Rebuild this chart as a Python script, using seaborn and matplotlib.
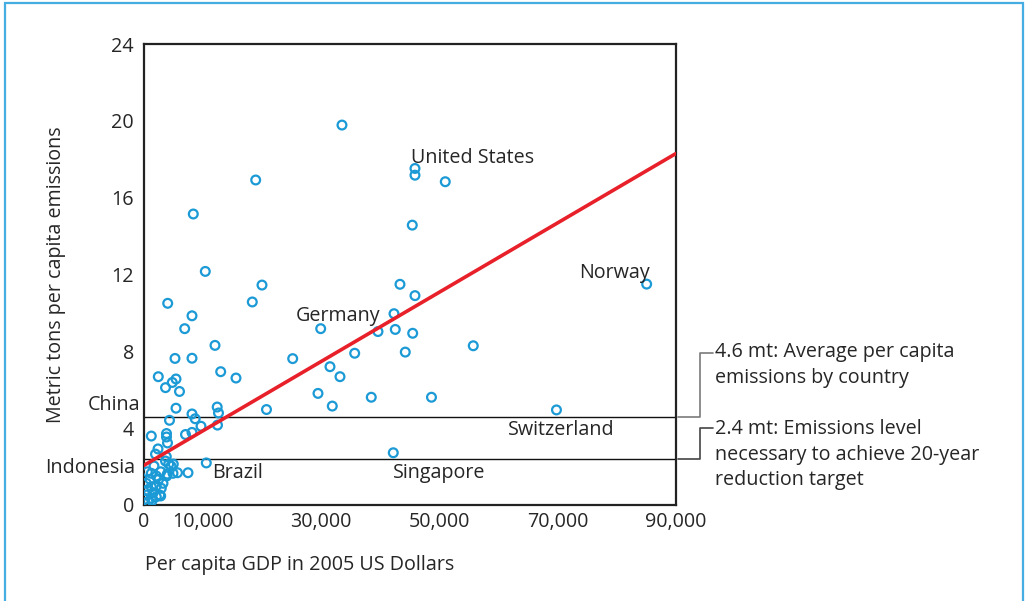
import matplotlib
matplotlib.use("Agg")
import matplotlib.pyplot as plt
import seaborn as sns
import pandas as pd
from matplotlib.patches import Rectangle
from matplotlib.ticker import FuncFormatter
import matplotlib.transforms as mtransforms

# ---- data ----
gdp = [33547, 18962, 45884, 45884, 51004, 8416, 45427, 10444, 20027, 43349,
       85041, 45884, 4090, 18387, 8197, 42335, 6963, 29947, 42554, 45495,
       39631, 12084, 55736, 5324, 8197, 25215, 35693, 44244, 31519, 13047,
       2501, 15633, 33209, 5493, 4867, 3718, 6084, 29491, 38498, 48672,
       31907, 5493, 12455, 20787, 69797, 8197, 12675, 8737, 4394, 12506,
       9718, 8197, 7098, 1318, 3887, 3887, 4056, 2451, 2028, 3853,
       42216, 10613, 3718, 4259, 4648, 5036, 1775, 7521, 5746, 2907,
       4022, 4986, 642, 1318, 2163, 1099, 2569, 3296, 473, 1318,
       2163, 3008, 642, 1606, 2738, 473, 1318, 2163, 2907, 761,
       1437, 203, 3921]
emissions = [19.78, 16.92, 17.52, 17.17, 16.83, 15.15, 14.57, 12.16, 11.45, 11.49,
             11.50, 10.90, 10.50, 10.57, 9.85, 9.96, 9.18, 9.18, 9.14, 8.94,
             9.03, 8.31, 8.29, 7.63, 7.64, 7.62, 7.90, 7.96, 7.20, 6.94,
             6.68, 6.61, 6.68, 6.56, 6.38, 6.11, 5.91, 5.81, 5.61, 5.61,
             5.15, 5.04, 5.10, 4.97, 4.95, 4.74, 4.79, 4.49, 4.41, 4.16,
             4.10, 3.78, 3.67, 3.59, 3.72, 3.54, 3.23, 2.92, 2.65, 2.52,
             2.72, 2.19, 2.29, 2.13, 2.03, 2.13, 2.03, 1.68, 1.68, 1.73,
             1.61, 1.65, 1.73, 1.65, 1.51, 1.34, 1.34, 1.13, 1.13, 0.95,
             0.99, 0.87, 0.78, 0.64, 0.52, 0.52, 0.35, 0.43, 0.47, 0.17,
             0.22, 0.30, 1.51]

trend_gdp = [0, 90000]
trend_emissions = [2.05, 18.3]

average_level = 4.6
target_level = 2.4

countries = ["United States", "Germany", "Norway", "China", "Indonesia",
             "Brazil", "Singapore", "Switzerland"]
label_x = [45207, 25773, 73600, -9380, -16647, 11577, 42166, 61600]
label_y = [18.09, 9.86, 12.10, 5.23, 1.95, 1.69, 1.64, 3.88]

y_ticks = [0, 4, 8, 12, 16, 20, 24]
x_ticks = [0, 10000, 30000, 50000, 70000, 90000]

avg_note = ["4.6 mt: Average per capita", "emissions by country"]
target_note = ["2.4 mt: Emissions level", "necessary to achieve 20-year",
               "reduction target"]

# ---- style ----
sns.set_style("white")
plt.rcParams["font.family"] = ["Open Sans", "DejaVu Sans"]
TEXT = "#262626"
BLUE = "#1b9ad6"
FS = 14.2

fig = plt.figure(figsize=(10.25, 6.01), dpi=100)
ax = fig.add_axes([143.5 / 1025, 1 - 505 / 601, 532.5 / 1025, 461 / 601])

df = pd.DataFrame({"gdp": gdp, "emissions": emissions})
sns.scatterplot(data=df, x="gdp", y="emissions", ax=ax, marker="o",
                facecolors="none", edgecolor=BLUE, linewidth=1.6, s=40,
                zorder=3, legend=False)
ax.collections[-1].set_facecolor("none")
ax.collections[-1].set_edgecolor(BLUE)

sns.lineplot(x=trend_gdp, y=trend_emissions, ax=ax, color="#e8202a",
             linewidth=2.6, zorder=4)

ax.axhline(average_level, color="#111111", linewidth=1.0, zorder=2)
ax.axhline(target_level, color="#111111", linewidth=1.0, zorder=2)

ax.set_xlim(0, 90000)
ax.set_ylim(0, 24)
ax.set_xticks(x_ticks)
ax.set_yticks(y_ticks)
ax.xaxis.set_major_formatter(FuncFormatter(lambda v, p: f"{int(v):,}"))
ax.tick_params(axis="y", direction="in", length=8.5, width=1.6,
               color="#8a8a8a", pad=7, labelsize=FS, labelcolor=TEXT)
ax.tick_params(axis="x", length=0, pad=5, labelsize=FS, labelcolor=TEXT)
for sp in ax.spines.values():
    sp.set_visible(True)
    sp.set_color("#222222")
    sp.set_linewidth(1.6)

ax.set_xlabel("")
ax.set_ylabel("Metric tons per capita emissions", fontsize=FS, color=TEXT,
              labelpad=0)
ax.yaxis.set_label_coords(-0.145, 0.5)
fig.text(145 / 1025, 1 - 565 / 601, "Per capita GDP in 2005 US Dollars",
         fontsize=FS, color=TEXT, ha="left", va="center")

for name, lx, ly in zip(countries, label_x, label_y):
    ax.text(lx, ly, name, fontsize=FS, color=TEXT, ha="left", va="center",
            zorder=5)

# bracket connectors outside the axes
trans = mtransforms.blended_transform_factory(ax.transAxes, ax.transData)
def px2ax(px):
    return (px - 143.5) / 532.5
def py2data(py):
    return (505 - py) / 19.21

ax.plot([px2ax(678), px2ax(700), px2ax(700), px2ax(713)],
        [average_level, average_level, py2data(353), py2data(353)],
        transform=trans, clip_on=False, color="#7a7a7a", linewidth=1.2)
ax.plot([px2ax(678), px2ax(700), px2ax(700), px2ax(713)],
        [target_level, target_level, py2data(428), py2data(428)],
        transform=trans, clip_on=False, color="#444444", linewidth=1.2)

for i, line in enumerate(avg_note):
    ax.text(px2ax(715), py2data(352 + 26 * i), line, transform=trans,
            fontsize=FS, color=TEXT, ha="left", va="center")
for i, line in enumerate(target_note):
    ax.text(px2ax(715), py2data(429 + 25.5 * i), line, transform=trans,
            fontsize=FS, color=TEXT, ha="left", va="center")

# light blue frame around the figure (open at the bottom)
fig.add_artist(Rectangle((5 / 1025, -0.05), 1018 / 1025, 1.05 - 3 / 601,
                         transform=fig.transFigure, fill=False,
                         edgecolor="#45ade2", linewidth=1.6))

fig.savefig("out.png", dpi=100)
